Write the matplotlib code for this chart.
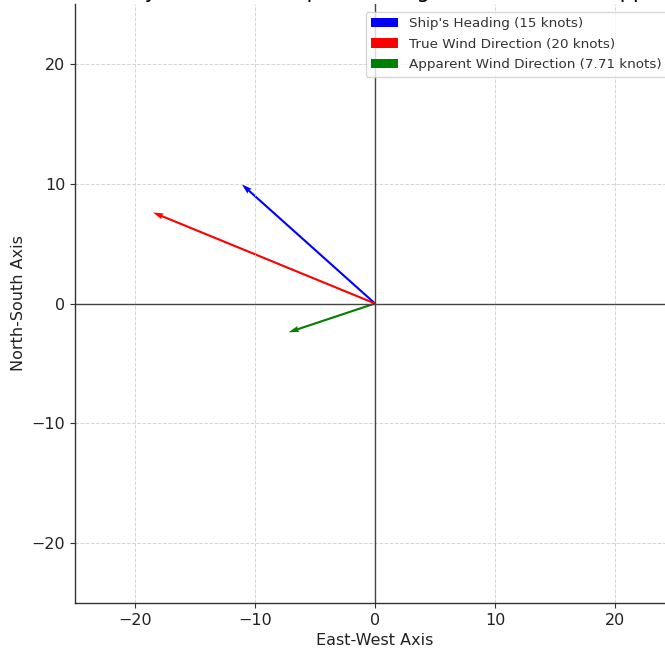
import matplotlib.pyplot as plt

# Vectors (east, north components)
labels = ["Ship's Heading (15 knots)", "True Wind Direction (20 knots)",
          "Apparent Wind Direction (7.71 knots)"]
colors = ["blue", "red", "green"]
east = [-11.1, -18.5, -7.2]
north = [9.95, 7.6, -2.4]
ticks = [-20, -10, 0, 10, 20]

fig = plt.figure(figsize=(6.65, 6.5), dpi=100)
# axes runs past the right edge, as in the cropped reference
ax = fig.add_axes([75 / 665, 47 / 650, 600 / 665, 599 / 650])

for u, v, c, lab in zip(east, north, colors, labels):
    ax.quiver(0, 0, u, v, angles='xy', scale_units='xy', scale=1,
              color=c, width=0.0035, label=lab)

ax.axhline(0, color='#444444', linewidth=1)
ax.axvline(0, color='#444444', linewidth=1)

ax.set_xlim(-25, 25)
ax.set_ylim(-25, 25)
ax.set_xticks(ticks)
ax.set_yticks(ticks)
ax.tick_params(labelsize=11.5, color='#333333', labelcolor='#222222')
ax.grid(True, linestyle='--', linewidth=0.7, color='#d5d5d5')
ax.spines['top'].set_visible(False)
ax.spines['right'].set_visible(False)
for s in ['left', 'bottom']:
    ax.spines[s].set_color('#333333')
    ax.spines[s].set_linewidth(1.0)

ax.set_xlabel('East-West Axis', fontsize=11.5, color='#222222')
ax.set_ylabel('North-South Axis', fontsize=11.5, color='#222222')
ax.set_title("Velocity Vectors of Ship's Heading, True Wind, and Apparent Wind",
             loc='left', fontsize=15, pad=4)
ax.legend(loc='upper right', fontsize=9.7, labelcolor='#333333',
          labelspacing=0.55, borderaxespad=0.6)

fig.savefig('out.png', dpi=100)
